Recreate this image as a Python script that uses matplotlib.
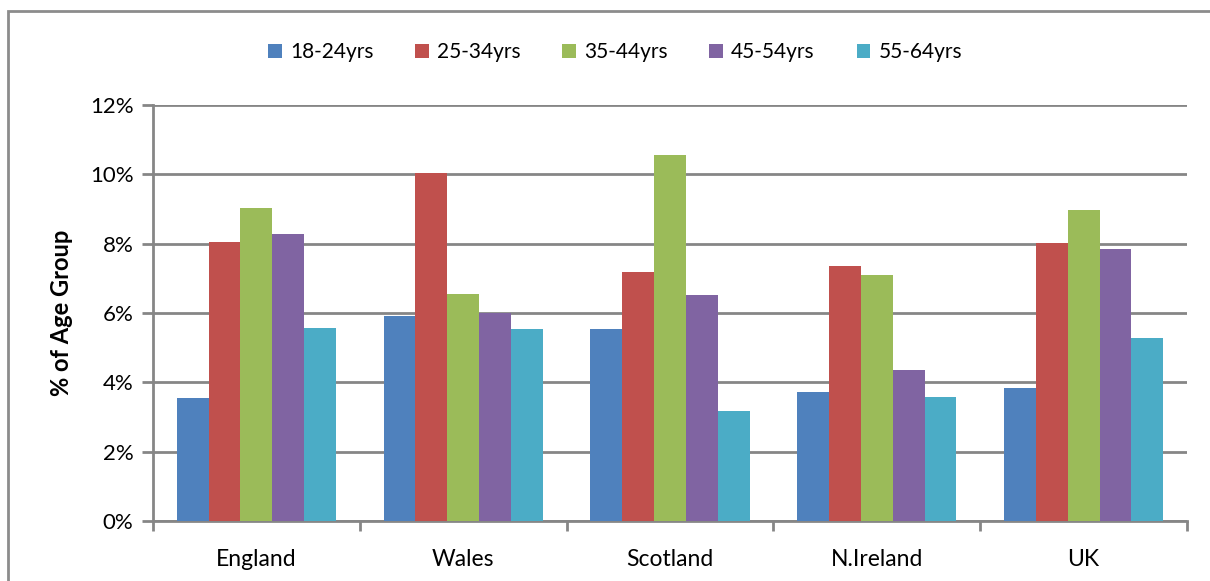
import numpy as np
import matplotlib
matplotlib.use("Agg")
import matplotlib.pyplot as plt
from matplotlib.patches import Rectangle
from matplotlib.ticker import FuncFormatter

regions = ["England", "Wales", "Scotland", "N.Ireland", "UK"]
age_groups = ["18-24yrs", "25-34yrs", "35-44yrs", "45-54yrs", "55-64yrs"]

# % of age group
age_18_24 = [3.55, 5.91, 5.54, 3.73, 3.85]
age_25_34 = [8.06, 10.05, 7.17, 7.35, 8.02]
age_35_44 = [9.02, 6.54, 10.57, 7.09, 8.98]
age_45_54 = [8.27, 5.99, 6.51, 4.36, 7.86]
age_55_64 = [5.58, 5.54, 3.17, 3.59, 5.28]

series = [age_18_24, age_25_34, age_35_44, age_45_54, age_55_64]
colors = ["#4F81BD", "#C0504D", "#9BBB59", "#8064A2", "#4BACC6"]

plt.rcParams['font.family'] = ['Lato', 'DejaVu Sans']

fig = plt.figure(figsize=(12.1, 5.81), dpi=100)
ax = fig.add_axes([153 / 1210, 1 - 521 / 581, (1187 - 153) / 1210, (521 - 105) / 581])

# outer chart frame
fig.add_artist(Rectangle((8 / 1210, -0.1), 1.2, 1.1 - 11 / 581, transform=fig.transFigure,
                         fill=False, edgecolor="#8c8c8c", linewidth=2, clip_on=False))

x = np.arange(len(regions))
bw = 0.154
for i, vals in enumerate(series):
    ax.bar(x + (i - 2) * bw, vals, width=bw, color=colors[i], label=age_groups[i], zorder=3)

ax.set_xlim(-0.5, len(regions) - 0.5)
ax.set_ylim(0, 12)
ax.set_yticks(range(0, 13, 2))
ax.yaxis.set_major_formatter(FuncFormatter(lambda v, p: "%d%%" % v))
ax.grid(axis="y", color="#868686", linewidth=2, zorder=0)

ax.set_xticks(x)
ax.set_xticklabels(regions)
ax.set_xticks(np.arange(-0.5, len(regions)), minor=True)
ax.tick_params(axis="x", which="major", length=0, pad=20, labelsize=16.5)
ax.tick_params(axis="x", which="minor", length=7, width=2, color="#868686")
ax.tick_params(axis="y", length=8, width=2, color="#868686", labelsize=16, pad=6)

for s in ["top", "right"]:
    ax.spines[s].set_visible(False)
for s in ["left", "bottom"]:
    ax.spines[s].set_color("#868686")
    ax.spines[s].set_linewidth(2)

ax.set_ylabel("% of Age Group", fontsize=17, fontweight="bold", labelpad=12)

fig.legend(loc="center", bbox_to_anchor=(615 / 1210, 1 - 52 / 581), ncol=5, frameon=False,
           fontsize=15, handlelength=0.65, handleheight=0.65, handletextpad=0.4, columnspacing=2.0)

fig.savefig("out.png", dpi=100)
